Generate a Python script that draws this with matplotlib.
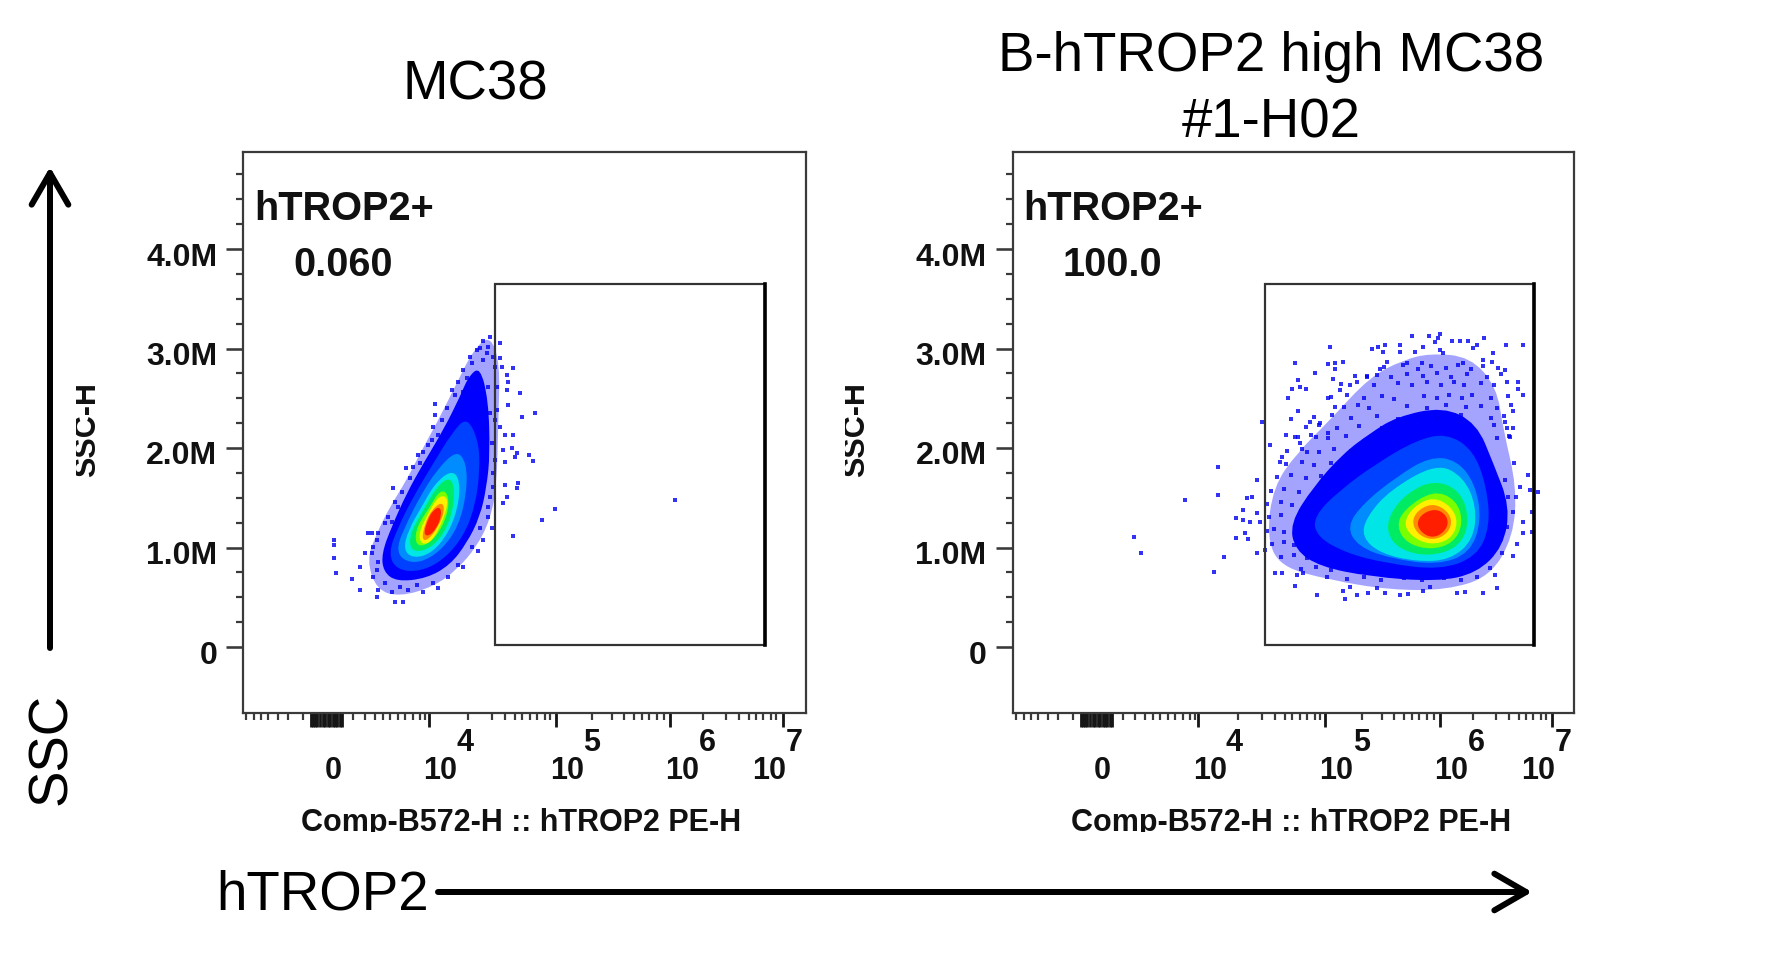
import numpy as np
import matplotlib
matplotlib.use("Agg")
import matplotlib.pyplot as plt
from matplotlib.path import Path
from matplotlib.patches import PathPatch, Rectangle, FancyArrowPatch
from matplotlib.transforms import ScaledTranslation, Bbox

plt.rcParams['font.family'] = ['Liberation Sans', 'DejaVu Sans']
W, H, DPI = 1782, 957, 100
px = 72 / DPI

# ---------------- axis values
y_major = [0, 1, 2, 3, 4]
y_labels = ["0", "1.0M", "2.0M", "3.0M", "4.0M"]
y_minor = [.25, .5, .75, 1.25, 1.5, 1.75, 2.25, 2.5, 2.75, 3.25, 3.5, 3.75, 4.25, 4.5, 4.75]
x_major = [90, 185.6, 312.5, 427, 539.4]
x_labels = ["0", "10", "10", "10", "10"]
x_exponents = ["4", "5", "6", "7"]
x_label_shift = [0, 11.5, 11, 12, -14]
x_exp_shift = [36, 36, 37, 11]
x_cluster = [68, 70, 72, 74, 77, 80, 82, 85, 87, 92, 94, 97, 99]
x_minor = [3, 11, 18, 25, 35, 45, 60,
           110, 122, 132, 140, 147, 155, 162, 170, 177, 182,
           225, 249, 262, 272, 279, 287, 294, 302, 307,
           349, 369, 381, 391, 399, 406, 414, 421,
           460, 483, 496, 506, 513, 520, 528, 533]

levels = ['#a4a4ff', '#0000ff', '#0040ff', '#008cff', '#00e6e6', '#00eb64',
          '#78ff00', '#fff000', '#ff8c00', '#ff1e00']

mc38_x = [
    [510, 540, 535, 530, 510, 470, 410, 340, 240, 170, 140, 170, 210, 260, 300, 350, 410, 460],
    [480, 505, 510, 500, 480, 440, 390, 320, 230, 190, 185, 215, 260, 310, 370, 420, 445],
    [440, 475, 480, 465, 430, 370, 300, 230, 205, 235, 280, 340, 395],
    [410, 440, 440, 415, 365, 300, 245, 230, 260, 300, 350],
    [395, 420, 415, 385, 335, 280, 250, 265, 305, 345],
    [390, 405, 395, 360, 310, 270, 270, 310, 350],
    [385, 385, 350, 310, 285, 290, 330, 360],
    [375, 385, 365, 335, 305, 295, 325, 350],
    [365, 375, 355, 325, 305, 315, 335],
    [360, 365, 350, 325, 310, 325, 340],
]
mc38_y = [
    [45, 130, 300, 500, 600, 680, 750, 800, 830, 810, 720, 640, 560, 480, 400, 310, 190, 90],
    [140, 240, 400, 500, 590, 670, 735, 775, 785, 755, 700, 620, 520, 430, 330, 230, 170],
    [290, 360, 450, 560, 650, 720, 755, 750, 700, 620, 530, 430, 340],
    [390, 430, 520, 620, 690, 730, 720, 680, 610, 530, 450],
    [450, 480, 560, 640, 700, 715, 690, 630, 560, 490],
    [470, 510, 590, 660, 695, 690, 640, 570, 500],
    [520, 580, 650, 680, 670, 620, 560, 510],
    [525, 550, 610, 665, 675, 640, 580, 535],
    [545, 570, 620, 660, 660, 610, 570],
    [560, 585, 625, 650, 640, 595, 570],
]
mc38_dots = [(705, 568), (665, 600), (580, 647), (645, 280), (600, 220), (605, 292), (578, 143), (560, 165),
             (565, 185), (560, 210), (565, 255), (555, 345), (580, 345), (575, 385), (590, 400), (627, 405),
             (640, 423), (585, 410), (555, 427), (595, 490), (590, 505), (555, 495), (560, 530), (548, 550),
             (540, 70), (540, 115), (545, 140), (548, 390), (540, 322), (42, 660), (42, 675), (42, 713),
             (47, 760), (95, 778), (120, 740), (120, 810), (135, 700), (145, 640), (225, 845), (250, 845),
             (170, 830), (1065, 540),
             (490, 62), (510, 50), (470, 90), (450, 110), (430, 150), (415, 185), (395, 210), (345, 253),
             (345, 285), (340, 320), (325, 375), (295, 405), (280, 440), (258, 443), (220, 503), (225, 545),
             (205, 590), (195, 610), (155, 640), (170, 660), (155, 700), (160, 770), (175, 810), (215, 815),
             (265, 810), (310, 815), (355, 805), (430, 740), (475, 692), (490, 660), (515, 625), (505, 560),
             (520, 500), (525, 420), (525, 300), (530, 200), (525, 140), (500, 100),
             (480, 85), (505, 80), (455, 130), (490, 120), (520, 110), (440, 175), (470, 160), (405, 225),
             (430, 215), (380, 265), (365, 300), (355, 345), (335, 360), (310, 395), (300, 430), (270, 475),
             (245, 515), (235, 560), (215, 605), (175, 640), (160, 680), (175, 725), (170, 750), (195, 790),
             (240, 800), (290, 795), (340, 790), (385, 770), (415, 735), (455, 680), (480, 625), (505, 590),
             (510, 530), (520, 460), (515, 370), (530, 270), (505, 200), (510, 280), (495, 330)]

high_x = [
    [600, 720, 800, 820, 860, 850, 780, 650, 480, 300, 150, 110, 130, 200, 300, 420, 520],
    [500, 640, 740, 790, 840, 820, 740, 620, 420, 270, 195, 180, 250, 340, 420],
    [560, 650, 730, 770, 780, 740, 630, 470, 350, 260, 250, 330, 440],
    [600, 680, 735, 755, 720, 620, 480, 385, 350, 400, 500],
    [620, 700, 740, 730, 660, 560, 450, 395, 410, 480],
    [610, 690, 720, 690, 600, 510, 470, 480, 530],
    [610, 680, 700, 670, 600, 530, 500, 520],
    [610, 665, 685, 660, 600, 545, 520, 550],
    [615, 660, 665, 640, 600, 560, 545, 570],
    [615, 650, 655, 625, 590, 560, 570],
]
high_y = [
    [100, 110, 200, 330, 500, 650, 770, 810, 810, 780, 740, 650, 500, 400, 300, 170, 120],
    [290, 260, 310, 430, 560, 680, 760, 785, 770, 740, 690, 610, 500, 400, 340],
    [360, 340, 390, 500, 620, 710, 750, 730, 700, 650, 590, 510, 430],
    [410, 420, 490, 600, 700, 735, 715, 680, 620, 550, 470],
    [430, 470, 560, 660, 720, 725, 700, 650, 590, 510],
    [480, 510, 600, 680, 710, 690, 640, 580, 520],
    [510, 540, 610, 670, 690, 670, 620, 570],
    [530, 560, 610, 660, 675, 650, 610, 560],
    [550, 580, 620, 650, 660, 640, 600, 565],
    [565, 585, 620, 650, 650, 620, 585],
]
high_dots = [(545, 48), (598, 48), (630, 42), (625, 55), (615, 65), (665, 62), (690, 62), (715, 62), (762, 55),
             (828, 75), (880, 75), (740, 75), (730, 85), (580, 82), (510, 75), (465, 75), (445, 82), (425, 88),
             (458, 95), (510, 95), (555, 95), (300, 82), (195, 128), (295, 133), (315, 128), (340, 125),
             (255, 160), (315, 148), (375, 168), (410, 168), (308, 177), (203, 180), (185, 208), (210, 200),
             (228, 207), (175, 233), (203, 272), (182, 298), (97, 305), (120, 375), (168, 345), (195, 352),
             (210, 370), (155, 410), (150, 425), (80, 480), (50, 535), (65, 530), (38, 570), (38, 600),
             (18, 595), (60, 605), (80, 580), (90, 605), (18, 655), (55, 658), (45, 640), (105, 690), (80, 700),
             (135, 760), (155, 760), (200, 765), (220, 760), (195, 798), (262, 825), (345, 838), (290, 772),
             (340, 812), (380, 825), (415, 820), (465, 818), (510, 825), (535, 822), (580, 812), (680, 818),
             (705, 815), (760, 818), (800, 805), (795, 765), (850, 707), (860, 672), (878, 640), (905, 635),
             (880, 607), (905, 575), (858, 530), (870, 500), (895, 465), (925, 515), (900, 510), (852, 430),
             (848, 325), (840, 350), (825, 305), (848, 272), (880, 225), (865, 208), (865, 187), (825, 150),
             (785, 125), (790, 100), (760, 120), (700, 130), (640, 100), (630, 90), (575, 130), (530, 130),
             (470, 125), (450, 148), (410, 170), (360, 195), (330, 210), (295, 235), (315, 260), (240, 305),
             (270, 310), (295, 340), (258, 350), (230, 395),
             (-288, 652), (-267, 700), (-134, 540), (-35, 441), (-35, 526), (-49, 755), (-18, 711)]
high_fill = [(462, 142), (518, 135), (563, 147), (604, 138), (648, 145), (684, 136), (722, 148), (758, 138), (803, 145),
             (441, 165), (484, 171), (532, 162), (578, 169), (622, 160), (662, 172), (712, 163), (771, 170), (812, 162),
             (333, 192), (382, 186), (431, 195), (503, 188), (547, 196), (592, 187), (633, 194), (672, 185), (703, 196),
             (752, 188), (793, 195), (832, 186), (303, 232), (352, 226), (402, 235), (457, 228), (492, 236), (582, 227),
             (621, 234), (657, 225), (697, 233), (727, 226), (782, 235), (833, 228), (342, 262), (383, 256), (417, 265),
             (532, 258), (592, 264), (647, 255), (707, 262), (752, 257), (802, 265), (842, 256), (252, 292), (307, 286),
             (362, 295), (442, 288), (503, 296), (562, 287), (622, 294), (692, 285), (782, 293), (822, 287), (227, 322),
             (267, 316), (322, 325), (387, 318), (457, 323), (792, 316), (832, 325), (203, 352), (242, 346), (293, 355),
             (347, 348), (802, 354), (837, 347), (172, 392), (217, 386), (267, 395), (312, 388), (362, 393), (167, 432),
             (217, 426), (252, 435), (302, 428), (142, 472), (182, 466), (227, 475), (272, 468), (122, 512), (162, 506),
             (207, 515), (112, 552), (152, 546), (187, 555), (117, 592), (152, 586), (112, 632), (132, 626), (162, 635),
             (127, 672), (162, 666), (192, 675), (152, 712), (192, 706), (232, 715), (212, 746), (257, 742), (302, 750),
             (352, 744), (352, 778), (402, 772), (452, 780), (522, 774), (577, 781), (642, 773), (692, 779), (742, 772),
             (825, 480), (835, 530), (850, 575), (832, 620), (815, 700), (780, 745), (360, 800), (440, 805), (600, 800)]

panels = [
    dict(left=243.5, right=806, crop_x0=320, title=["MC38"], title_x=[475], title_y=[86],
         gate=(495.5, 765), pct="0.060", cx=mc38_x, cy=mc38_y, dots=mc38_dots),
    dict(left=1012.6, right=1574, crop_x0=1230, title=["B-hTROP2 high MC38", "#1-H02"],
         title_x=[1271, 1271], title_y=[57, 123],
         gate=(1264.5, 1533.5), pct="100.0", cx=high_x, cy=high_y, dots=high_dots + high_fill),
]
TOP, BOTTOM, Y0, PX_PER_M, CROP_Y0 = 152, 713, 647, 99.5, 320
ylim = ((Y0 - BOTTOM) / PX_PER_M, (Y0 - TOP) / PX_PER_M)


def smooth_path(xs, ys):
    pts = np.column_stack([xs, ys])
    nxt = np.roll(pts, -1, axis=0)
    mids = (pts + nxt) / 2
    verts = [mids[-1]]
    codes = [Path.MOVETO]
    for p, m in zip(pts, mids):
        verts += [p, m]
        codes += [Path.CURVE3, Path.CURVE3]
    return Path(np.array(verts), codes)


fig = plt.figure(figsize=(W / DPI, H / DPI), dpi=DPI, facecolor='white')
spine_c = '#3a3a3a'
bold = dict(fontweight='bold', color='#111111')

for p in panels:
    L, R = p['left'], p['right']
    ax = fig.add_axes([L / W, 1 - BOTTOM / H, (R - L) / W, (BOTTOM - TOP) / H])
    ax.set_xlim(0, R - L)
    ax.set_ylim(*ylim)
    for s in ax.spines.values():
        s.set_linewidth(2.2 * px)
        s.set_color(spine_c)

    to_x = lambda v: (p['crop_x0'] + np.asarray(v, float) / 3) - L
    to_y = lambda v: (Y0 - (CROP_Y0 + np.asarray(v, float) / 3)) / PX_PER_M

    for xs, ys, col in zip(p['cx'], p['cy'], levels):
        ax.add_patch(PathPatch(smooth_path(to_x(xs), to_y(ys)), fc=col, ec='none', zorder=2))
    dots = np.array(p['dots'], float)
    ax.scatter(to_x(dots[:, 0]), to_y(dots[:, 1]), s=9, marker='s', c='#0000f0', alpha=.8, lw=0, zorder=3)

    # gate
    gx0, gx1 = p['gate'][0] - L, p['gate'][1] - L
    gy0, gy1 = (Y0 - 645) / PX_PER_M, (Y0 - 284) / PX_PER_M
    ax.add_patch(Rectangle((gx0, gy0), gx1 - gx0, gy1 - gy0, fc='none', ec='#333333', lw=2.2 * px, zorder=4))
    ax.plot([gx1, gx1], [gy0, gy1], color='black', lw=3.6 * px, zorder=4)

    # y axis
    ax.set_yticks(y_major)
    ax.set_yticklabels(y_labels, fontsize=23, **bold)
    ax.set_yticks(y_minor, minor=True)
    ax.tick_params(axis='y', which='major', length=17 * px, width=2.6 * px, color=spine_c, pad=9 * px)
    ax.tick_params(axis='y', which='minor', length=7 * px, width=2.2 * px, color=spine_c)
    for lab in ax.get_yticklabels():
        lab.set_transform(lab.get_transform() + ScaledTranslation(0, -5 / DPI, fig.dpi_scale_trans))

    # x axis
    ax.set_xticks(x_major + x_cluster, x_labels + [''] * len(x_cluster), fontsize=22, **bold)
    ax.set_xticks(x_minor, minor=True)
    ax.tick_params(axis='x', which='major', length=14 * px, width=2.8 * px, color='#151515', pad=29 * px)
    ax.tick_params(axis='x', which='minor', length=7 * px, width=2.2 * px, color=spine_c)
    for lab, dx in zip(ax.get_xticklabels(), x_label_shift):
        lab.set_transform(lab.get_transform() + ScaledTranslation(dx / DPI, 0, fig.dpi_scale_trans))
    for t, e, dx in zip(x_major[1:], x_exponents, x_exp_shift):
        ax.annotate(e, xy=(t, 0), xycoords=('data', 'axes fraction'), xytext=(dx * px, -30 * px),
                    textcoords='offset points', ha='center', va='center', fontsize=22,
                    annotation_clip=False, **bold)

    # gate name + percentage
    ax.text(11, (Y0 - 209) / PX_PER_M, "hTROP2+", fontsize=28.6, va='center', ha='left', **bold)
    ax.text(50, (Y0 - 265) / PX_PER_M, p['pct'], fontsize=28.5, va='center', ha='left', **bold)

    # clipped axis names
    xl = fig.text((L + 278) / W, 1 - 823 / H, "Comp-B572-H :: hTROP2 PE-H",
                  fontsize=22, ha='center', va='center', **bold)
    xl.set_clip_box(Bbox([[0, H - 832], [W, H]]))
    xl.set_clip_on(True)
    yl = fig.text((L - 156) / W, 1 - 430 / H, "SSC-H", rotation=90, fontsize=22,
                  ha='center', va='center', **bold)
    yl.set_clip_box(Bbox([[L - 168, 0], [W, H]]))
    yl.set_clip_on(True)

    # titles
    for t, xx, yy in zip(p['title'], p['title_x'], p['title_y']):
        fig.text(xx / W, 1 - yy / H, t, fontsize=39.3, ha='center', va='center', color='black')

# outer labels and arrows
fig.text(323 / W, 1 - 895 / H, "hTROP2", fontsize=39.3, ha='center', va='center', color='black')
fig.text(52 / W, 1 - 749 / H, "SSC", fontsize=39.3, rotation=90, ha='center', va='center', color='black')
arrow = dict(arrowstyle='->,head_length=0.95,head_width=0.55', lw=6 * px, color='black',
             shrinkA=0, shrinkB=0, mutation_scale=24)
fig.add_artist(FancyArrowPatch((438 / W, 1 - 892 / H), (1532 / W, 1 - 892 / H),
                               transform=fig.transFigure, **arrow))
fig.add_artist(FancyArrowPatch((50 / W, 1 - 648 / H), (50 / W, 1 - 167 / H),
                               transform=fig.transFigure, **arrow))

fig.savefig("out.png", dpi=DPI, facecolor='white')
